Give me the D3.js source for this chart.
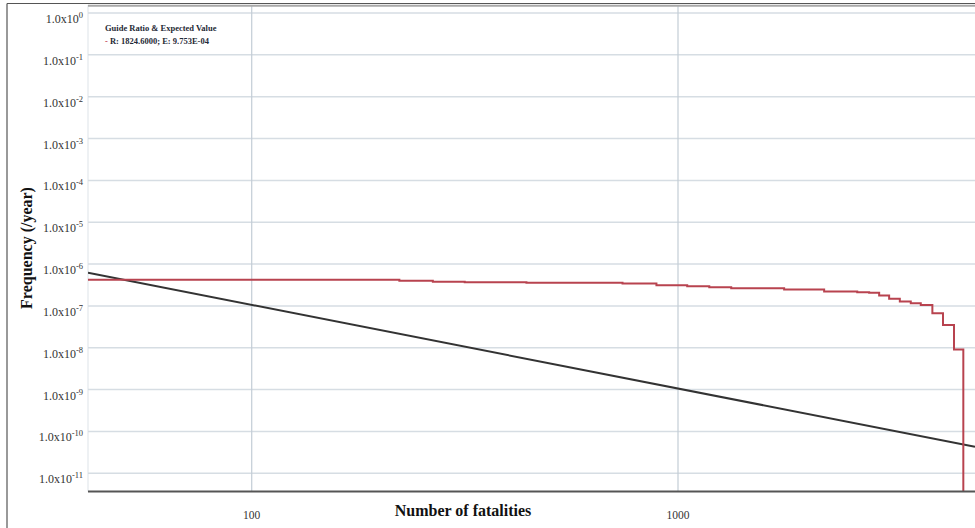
<!DOCTYPE html>
<meta http-equiv="Content-Type" content="text/html; charset=utf-8">
<style>
body { margin: 0; background: #fff; }
svg text { font-family: "Liberation Serif", "Times New Roman", serif; }
</style>
<body>
<script src="https://cdn.jsdelivr.net/npm/d3@7"></script>
<script>
// y ticks (decades) and x ticks
var yTicks = [1e0, 1e-1, 1e-2, 1e-3, 1e-4, 1e-5, 1e-6, 1e-7, 1e-8, 1e-9, 1e-10, 1e-11];
var yExp = [0, -1, -2, -3, -4, -5, -6, -7, -8, -9, -10, -11];
var xTicks = [100, 1000];
var xLabels = ["100", "1000"];

// F-N curve (step start fatalities, frequency); last entry is the drop off
var redN = [41.3, 222, 266, 316, 441, 741, 890, 1051, 1184, 1333, 1774, 2202, 2633, 2808, 2964, 3128, 3314, 3516, 3711, 3951, 4185, 4441, 4670];
var redF = [4.20e-7, 4.02e-7, 3.80e-7, 3.70e-7, 3.60e-7, 3.44e-7, 3.13e-7, 2.97e-7, 2.81e-7, 2.66e-7, 2.47e-7, 2.21e-7, 2.13e-7, 2.07e-7, 1.77e-7, 1.49e-7, 1.27e-7, 1.16e-7, 1.05e-7, 6.67e-8, 3.49e-8, 9.12e-9, 1e-13];

// guide line
var guideN = [41.3, 4974];
var guideF = [6.2e-7, 4.3e-11];

var W = 975, H = 528;
var pLeft = 88, pRight = 975, pTop = 5, pBottom = 491.5;

var svg = d3.select("body").append("svg").attr("width", W).attr("height", H);

var x = d3.scaleLog().domain([41.3, 4974]).range([pLeft, pRight]);
var y = d3.scaleLog().domain([1e-11, 1]).range([473.3, 13]);

svg.append("clipPath").attr("id", "clip").append("rect")
  .attr("x", pLeft).attr("y", pTop).attr("width", pRight - pLeft).attr("height", pBottom - pTop);

// outer frame
svg.append("line").attr("x1", 7).attr("x2", W).attr("y1", 3.5).attr("y2", 3.5)
  .attr("stroke", "#555").attr("stroke-width", 1);
svg.append("line").attr("x1", 7).attr("x2", 7).attr("y1", 3.5).attr("y2", H)
  .attr("stroke", "#555").attr("stroke-width", 1.2);

// plot left edge
svg.append("line").attr("x1", pLeft).attr("x2", pLeft).attr("y1", pTop).attr("y2", pBottom)
  .attr("stroke", "#dde3e8").attr("stroke-width", 1);

// horizontal grid
svg.append("g").selectAll("line").data(yTicks).enter().append("line")
  .attr("x1", pLeft).attr("x2", pRight)
  .attr("y1", function(d){ return y(d); }).attr("y2", function(d){ return y(d); })
  .attr("stroke", "#d6dde3").attr("stroke-width", 1.5);

// vertical grid
svg.append("g").selectAll("line").data(xTicks).enter().append("line")
  .attr("x1", function(d){ return x(d); }).attr("x2", function(d){ return x(d); })
  .attr("y1", pTop).attr("y2", pBottom)
  .attr("stroke", "#c3cdd6").attr("stroke-width", 1.2);

// plot top border
svg.append("line").attr("x1", pLeft).attr("x2", W).attr("y1", 5.8).attr("y2", 5.8)
  .attr("stroke", "#a8a8a8").attr("stroke-width", 2);

// y tick labels
var yl = svg.append("g").selectAll("text").data(yTicks).enter().append("text")
  .attr("x", 83).attr("y", function(d){ return y(d) + 10; })
  .attr("text-anchor", "end").attr("font-size", 12).attr("fill", "#333");
yl.append("tspan").text("1.0x10");
yl.append("tspan").attr("dy", -5).attr("font-size", 8.5)
  .text(function(d, i){ return yExp[i]; });

// x tick labels
svg.append("g").selectAll("text").data(xTicks).enter().append("text")
  .attr("x", function(d){ return x(d); }).attr("y", 519)
  .attr("text-anchor", "middle").attr("font-size", 11.5).attr("fill", "#333")
  .text(function(d, i){ return xLabels[i]; });

// axis titles
svg.append("text").attr("x", 463).attr("y", 516).attr("text-anchor", "middle")
  .attr("font-size", 16).attr("font-weight", "bold").attr("fill", "#111")
  .text("Number of fatalities");
svg.append("text").attr("transform", "translate(32,248) rotate(-90)").attr("text-anchor", "middle")
  .attr("font-size", 16).attr("font-weight", "bold").attr("fill", "#111")
  .text("Frequency (/year)");

var plot = svg.append("g").attr("clip-path", "url(#clip)");

// guide line
var gpts = guideN.map(function(n, i){ return [n, guideF[i]]; });
plot.append("path").datum(gpts)
  .attr("d", d3.line().x(function(d){ return x(d[0]); }).y(function(d){ return y(d[1]); }))
  .attr("fill", "none").attr("stroke", "#333").attr("stroke-width", 2);

// F-N step curve
var rpts = redN.map(function(n, i){ return [n, redF[i]]; });
plot.append("path").datum(rpts)
  .attr("d", d3.line().curve(d3.curveStepAfter)
    .x(function(d){ return x(d[0]); }).y(function(d){ return Math.min(y(d[1]), pBottom + 5); }))
  .attr("fill", "none").attr("stroke", "#b8434f").attr("stroke-width", 2);

// bottom axis line
svg.append("line").attr("x1", pLeft).attr("x2", W).attr("y1", pBottom).attr("y2", pBottom)
  .attr("stroke", "#555").attr("stroke-width", 2);

// legend
svg.append("text").attr("x", 105).attr("y", 31).attr("font-size", 8.5).attr("font-weight", "bold")
  .attr("fill", "#1f2a36").text("Guide Ratio & Expected  Value");
var lg = svg.append("text").attr("x", 105).attr("y", 43.5).attr("font-size", 8.5).attr("font-weight", "bold");
lg.append("tspan").attr("fill", "#c0404f").text("- ");
lg.append("tspan").attr("fill", "#1f2a36").text("R: 1824.6000; E: 9.753E-04");
</script>
</body>
</html>
